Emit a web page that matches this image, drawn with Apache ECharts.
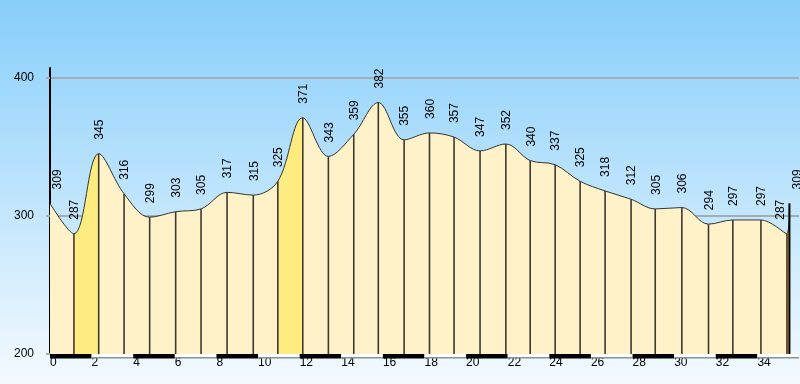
<!DOCTYPE html>
<html><head><meta charset="utf-8">
<script src="https://cdn.jsdelivr.net/npm/echarts@6/dist/echarts.min.js"></script>
<style>html,body{margin:0;padding:0;}#c{width:800px;height:384px;}</style>
</head><body><div id="c"></div>
<script>
// distance along route (km) and elevation (m)
const distances = [0, 1.15, 2.34, 3.56, 4.79, 6.04, 7.26, 8.51, 9.77, 10.95, 12.15, 13.38, 14.60, 15.78, 17.02, 18.24, 19.42, 20.67, 21.91, 23.08, 24.28, 25.48, 26.68, 27.93, 29.09, 30.37, 31.65, 32.82, 34.17, 35.42, 35.54];
const elevations = [309, 287, 345, 316, 299, 303, 305, 317, 315, 325, 371, 343, 359, 382, 355, 360, 357, 347, 352, 340, 337, 325, 318, 312, 305, 306, 294, 297, 297, 287, 309];
const xTicks = [0, 2, 4, 6, 8, 10, 12, 14, 16, 18, 20, 22, 24, 26, 28, 30, 32, 34, 36];
const yTicks = [200, 300, 400];

const FONT = "'Liberation Sans', Arial, sans-serif";
const CREAM = '#FFF2C8', YELLOW = '#FFEC80', ORANGE = '#FFA500';

const points = distances.map((d, i) => [d, elevations[i]]);
const yMin = yTicks[0];

// colour of each segment by gradient
const pieces = [];
for (let i = 0; i < distances.length - 1; i++) {
  const g = (elevations[i + 1] - elevations[i]) / (distances[i + 1] - distances[i]) / 10;
  const color = g >= 10 ? ORANGE : (g >= 3 ? YELLOW : CREAM);
  const p = { gte: distances[i], color: color };
  if (i < distances.length - 2) p.lt = distances[i + 1]; else p.lte = distances[i + 1];
  pieces.push(p);
}

const scaleSegs = [];
for (let i = 0; i < xTicks.length - 1; i++) scaleSegs.push([xTicks[i], xTicks[i + 1], i % 2]);

const chart = echarts.init(document.getElementById('c'), null, { renderer: 'canvas' });
chart.setOption({
  animation: false,
  backgroundColor: { type: 'linear', x: 0, y: 0, x2: 0, y2: 1,
    colorStops: [{ offset: 0, color: '#87CEFA' }, { offset: 1, color: '#F4FAFF' }] },
  grid: { left: 50, right: 1, top: 68, bottom: 30 },
  xAxis: {
    type: 'value', min: xTicks[0], max: xTicks[xTicks.length - 1], interval: 2,
    axisLine: { show: false }, axisTick: { show: false }, splitLine: { show: false },
    axisLabel: { color: '#000', fontFamily: FONT, fontSize: 12, align: 'left', margin: 3, showMaxLabel: false }
  },
  yAxis: {
    type: 'value', min: yMin, max: 407, interval: 100,
    axisLine: { show: true, lineStyle: { color: '#000', width: 2 } },
    axisTick: { show: true, length: 4, lineStyle: { color: '#a3adb6', width: 2 } },
    axisLabel: { color: '#000', fontFamily: FONT, fontSize: 12, margin: 16, showMaxLabel: false },
    splitLine: { show: true, showMaxLine: false, showMinLine: false, lineStyle: { color: '#a3adb6', width: 2 } }
  },
  visualMap: {
    show: false, type: 'piecewise', seriesIndex: 0, dimension: 0, pieces: pieces
  },
  series: [
    {
      type: 'line', data: points, smooth: 0.35, symbol: 'none',
      lineStyle: { color: '#333', width: 1 },
      areaStyle: { opacity: 1, origin: 'start' },
      z: 2
    },
    {
      type: 'custom', data: points, z: 3, clip: false,
      renderItem: function (params, api) {
        const idx = params.dataIndex;
        const x = api.value(0), y = api.value(1);
        const top = api.coord([x, y]);
        const bot = api.coord([x, yMin]);
        const last = idx === distances.length - 1;
        let dx = 1;
        if (idx === 0) dx = 8;
        if (idx === distances.length - 2) dx = -6;
        if (last) dx = 8;
        const children = [];
        if (idx > 0) children.push({
          type: 'line',
          shape: { x1: top[0], y1: top[1], x2: bot[0], y2: bot[1] },
          style: { stroke: last ? '#000' : '#3d3a33', lineWidth: last ? 2 : 1.6 }
        });
        children.push({
          type: 'text', x: top[0] + dx, y: top[1] - 14, rotation: Math.PI / 2,
          style: { text: String(y), fill: '#000', font: '12px ' + FONT, align: 'left', verticalAlign: 'middle' }
        });
        return { type: 'group', children: children };
      }
    },
    {
      type: 'custom', data: scaleSegs, z: 4, clip: false,
      renderItem: function (params, api) {
        const a = api.coord([api.value(0), yMin]);
        const b = api.coord([api.value(1), yMin]);
        const black = api.value(2) === 0;
        return { type: 'group', children: [
          { type: 'rect', shape: { x: a[0], y: a[1], width: b[0] - a[0], height: 3 },
            style: { fill: black ? '#000' : '#fff' } },
          { type: 'rect', shape: { x: a[0], y: a[1] + 3, width: b[0] - a[0], height: 1.5 },
            style: { fill: black ? '#000' : '#8c9096' } }
        ] };
      }
    }
  ]
});
</script>
</body></html>
